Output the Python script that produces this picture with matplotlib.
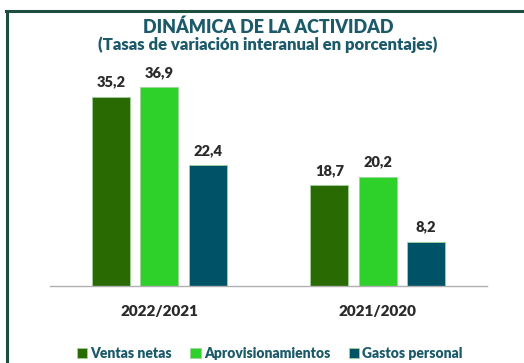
import matplotlib
matplotlib.use("Agg")
import matplotlib.pyplot as plt
from matplotlib.lines import Line2D
import numpy as np

plt.rcParams['font.family'] = ['Lato', 'DejaVu Sans']

# datos
periodos = ["2022/2021", "2021/2020"]
series = ["Ventas netas", "Aprovisionamientos", "Gastos personal"]
ventas = [35.2, 18.7]
aprovisionamientos = [36.9, 20.2]
gastos = [22.4, 8.2]

colores = ["#2a6a03", "#2dd12a", "#005366"]
azul_titulo = "#1c5a6a"

fig = plt.figure(figsize=(5.24, 3.63), dpi=100)
ax = fig.add_axes([50 / 524, 77 / 363, 437 / 524, 226 / 363])

x = np.arange(len(periodos))
ancho = 0.174
desp = 0.2215
for i, (vals, nombre) in enumerate(zip([ventas, aprovisionamientos, gastos], series)):
    barras = ax.bar(x + (i - 1) * desp, vals, ancho, color=colores[i],
                    edgecolor="#9fd39a", linewidth=0.6, label=nombre)
    for b, v in zip(barras, vals):
        ax.text(b.get_x() + b.get_width() / 2, v + 1.6, f"{v:.1f}".replace(".", ","),
                ha="center", va="bottom", fontsize=10.5, fontweight="heavy", color="#2a2a2a")

ax.set_xlim(-0.5, 1.5)
ax.set_ylim(0, 42)
ax.set_xticks(x)
ax.set_xticklabels(periodos, fontsize=11, fontweight="heavy", color="#2a2a2a")
ax.tick_params(axis="x", length=0, pad=14)
ax.set_yticks([])
for s in ["top", "right", "left"]:
    ax.spines[s].set_visible(False)
ax.spines["bottom"].set_color("#b0b0b0")
ax.spines["bottom"].set_linewidth(1)

# titulos
fig.text(0.511, 1 - 27 / 363, "DINÁMICA DE LA ACTIVIDAD", ha="center", va="center",
         fontsize=13, fontweight="heavy", color=azul_titulo)
fig.text(0.511, 1 - 45 / 363, "(Tasas de variación interanual en porcentajes)", ha="center",
         va="center", fontsize=12, fontweight="heavy", color=azul_titulo)

# leyenda
leg = fig.legend(loc="center", bbox_to_anchor=(0.515, 1 - 353 / 363), ncol=3, frameon=False,
                 handlelength=0.75, handleheight=0.75, handletextpad=0.25, columnspacing=1.3,
                 prop={"weight": "heavy", "size": 10}, labelcolor=azul_titulo)

# marco
fig.add_artist(Line2D([7 / 524, 7 / 524], [0, 1 - 11 / 363], transform=fig.transFigure,
                      color="#1e4f3c", linewidth=2.2))
fig.add_artist(Line2D([6 / 524, 1], [1 - 11 / 363, 1 - 11 / 363], transform=fig.transFigure,
                      color="#1e4f3c", linewidth=2.2))

fig.savefig("out.png", dpi=100)
